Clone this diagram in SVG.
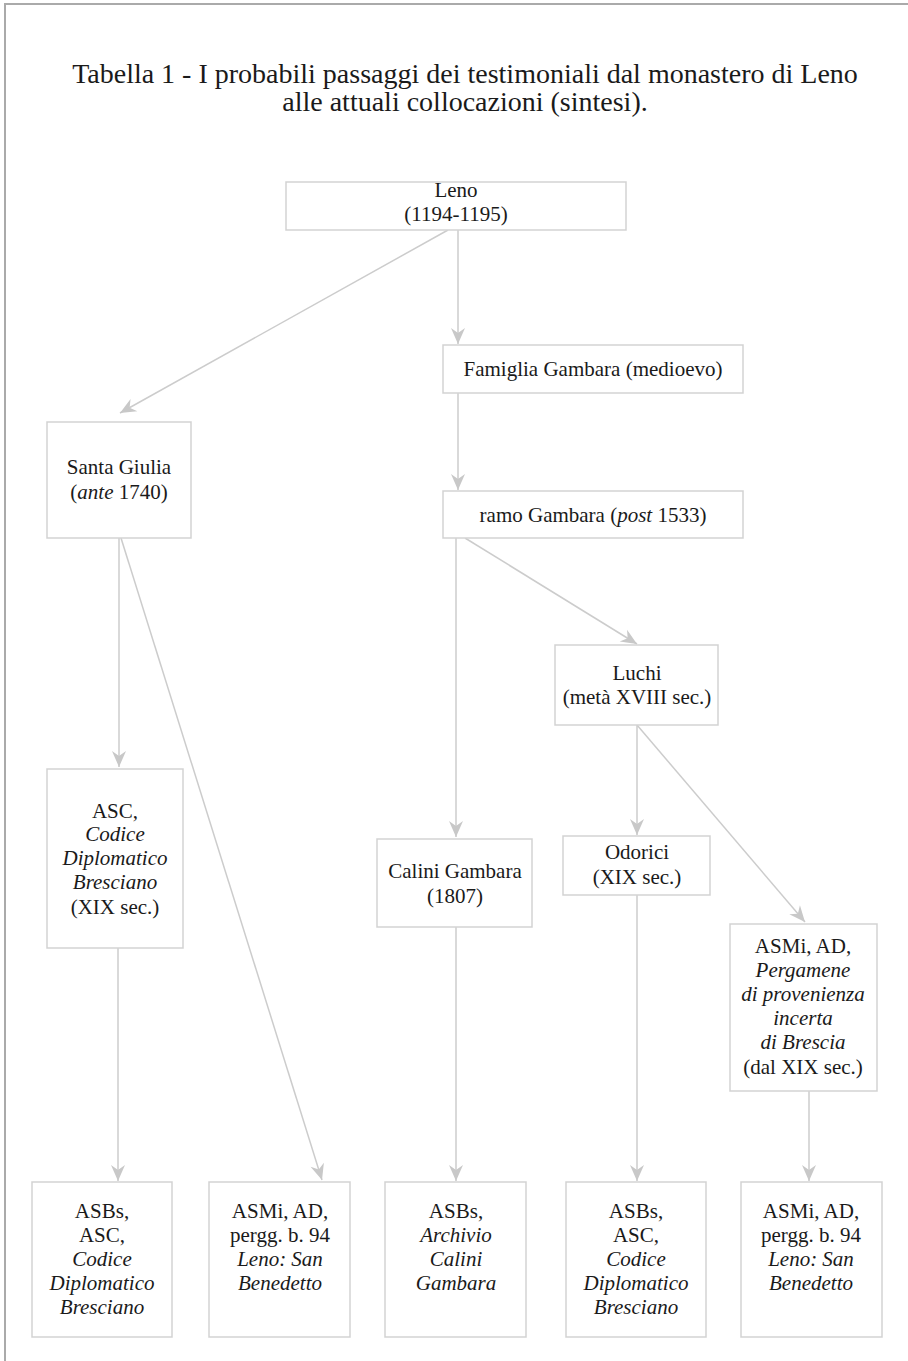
<svg xmlns="http://www.w3.org/2000/svg" width="908" height="1361" viewBox="0 0 908 1361">
<defs>
<style>
.frame{stroke:#aaaaaa;stroke-width:2;fill:none}
.box{fill:#ffffff;stroke:#d3d3d3;stroke-width:1.5}
.conn{stroke:#cccccc;stroke-width:1.5;fill:none;marker-end:url(#arr)}
text{font-family:"Liberation Serif","DejaVu Serif",serif;font-size:21px;fill:#1a1a1a;text-anchor:middle}
.title{font-size:28px}
.it{font-style:italic}
</style>
<marker id="arr" viewBox="-17 -8 18 16" refX="0" refY="0" markerWidth="18" markerHeight="16" markerUnits="userSpaceOnUse" orient="auto">
<path d="M0,0 L-16,-7 L-11,0 L-16,7 Z" fill="#c8c8c8"/>
</marker>
</defs>
<rect width="908" height="1361" fill="#ffffff"/>
<g id="frame">
<line class="frame" x1="4" y1="4" x2="908" y2="4"/>
<line class="frame" x1="5" y1="4" x2="5" y2="1361"/>
</g>
<g id="title">
<text class="title" x="465" y="83">Tabella 1 - I probabili passaggi dei testimoniali dal monastero di Leno</text>
<text class="title" x="465" y="111">alle attuali collocazioni (sintesi).</text>
</g>
<g id="connectors">
<line class="conn" x1="448" y1="230" x2="120" y2="413"/>
<line class="conn" x1="458" y1="230" x2="458" y2="344"/>
<line class="conn" x1="458" y1="393" x2="458" y2="490"/>
<line class="conn" x1="119" y1="538" x2="119" y2="767"/>
<line class="conn" x1="121" y1="538" x2="322" y2="1180"/>
<line class="conn" x1="456" y1="538" x2="456" y2="837"/>
<line class="conn" x1="465" y1="538" x2="637" y2="644"/>
<line class="conn" x1="637" y1="725" x2="637" y2="835"/>
<line class="conn" x1="637" y1="725" x2="805" y2="922"/>
<line class="conn" x1="118" y1="948" x2="118" y2="1181"/>
<line class="conn" x1="456" y1="927" x2="456" y2="1181"/>
<line class="conn" x1="637" y1="895" x2="637" y2="1181"/>
<line class="conn" x1="809" y1="1091" x2="809" y2="1181"/>
</g>
<g id="leno">
<rect class="box" x="286" y="182" width="340" height="48"/>
<text x="456" y="197">Leno</text>
<text x="456" y="221">(1194-1195)</text>
</g>
<g id="famiglia">
<rect class="box" x="443" y="345" width="300" height="48"/>
<text x="593" y="376">Famiglia Gambara (medioevo)</text>
</g>
<g id="santagiulia">
<rect class="box" x="47" y="422" width="144" height="116"/>
<text x="119" y="474">Santa Giulia</text>
<text x="119" y="499">(<tspan class="it">ante</tspan> 1740)</text>
</g>
<g id="ramo">
<rect class="box" x="443" y="491" width="300" height="47"/>
<text x="593" y="522">ramo Gambara (<tspan class="it">post</tspan> 1533)</text>
</g>
<g id="luchi">
<rect class="box" x="555" y="645" width="163" height="80"/>
<text x="637" y="680">Luchi</text>
<text x="637" y="704">(metà XVIII sec.)</text>
</g>
<g id="asc">
<rect class="box" x="47" y="769" width="136" height="179"/>
<text x="115" y="818">ASC,</text>
<text class="it" x="115" y="841">Codice</text>
<text class="it" x="115" y="865">Diplomatico</text>
<text class="it" x="115" y="889">Bresciano</text>
<text x="115" y="914">(XIX sec.)</text>
</g>
<g id="calini">
<rect class="box" x="377" y="839" width="155" height="88"/>
<text x="455" y="878">Calini Gambara</text>
<text x="455" y="903">(1807)</text>
</g>
<g id="odorici">
<rect class="box" x="563" y="836" width="147" height="59"/>
<text x="637" y="859">Odorici</text>
<text x="637" y="884">(XIX sec.)</text>
</g>
<g id="pergamene">
<rect class="box" x="730" y="924" width="147" height="167"/>
<text x="803" y="953">ASMi, AD,</text>
<text class="it" x="803" y="977">Pergamene</text>
<text class="it" x="803" y="1001">di provenienza</text>
<text class="it" x="803" y="1025">incerta</text>
<text class="it" x="803" y="1049">di Brescia</text>
<text x="803" y="1074">(dal XIX sec.)</text>
</g>
<g id="b1">
<rect class="box" x="32" y="1182" width="140" height="155"/>
<text x="102" y="1218">ASBs,</text>
<text x="102" y="1242">ASC,</text>
<text class="it" x="102" y="1266">Codice</text>
<text class="it" x="102" y="1290">Diplomatico</text>
<text class="it" x="102" y="1314">Bresciano</text>
</g>
<g id="b2">
<rect class="box" x="209" y="1182" width="141" height="155"/>
<text x="280" y="1218">ASMi, AD,</text>
<text x="280" y="1242">pergg. b. 94</text>
<text class="it" x="280" y="1266">Leno: San</text>
<text class="it" x="280" y="1290">Benedetto</text>
</g>
<g id="b3">
<rect class="box" x="385" y="1182" width="141" height="155"/>
<text x="456" y="1218">ASBs,</text>
<text class="it" x="456" y="1242">Archivio</text>
<text class="it" x="456" y="1266">Calini</text>
<text class="it" x="456" y="1290">Gambara</text>
</g>
<g id="b4">
<rect class="box" x="566" y="1182" width="140" height="155"/>
<text x="636" y="1218">ASBs,</text>
<text x="636" y="1242">ASC,</text>
<text class="it" x="636" y="1266">Codice</text>
<text class="it" x="636" y="1290">Diplomatico</text>
<text class="it" x="636" y="1314">Bresciano</text>
</g>
<g id="b5">
<rect class="box" x="741" y="1182" width="141" height="155"/>
<text x="811" y="1218">ASMi, AD,</text>
<text x="811" y="1242">pergg. b. 94</text>
<text class="it" x="811" y="1266">Leno: San</text>
<text class="it" x="811" y="1290">Benedetto</text>
</g>
</svg>
